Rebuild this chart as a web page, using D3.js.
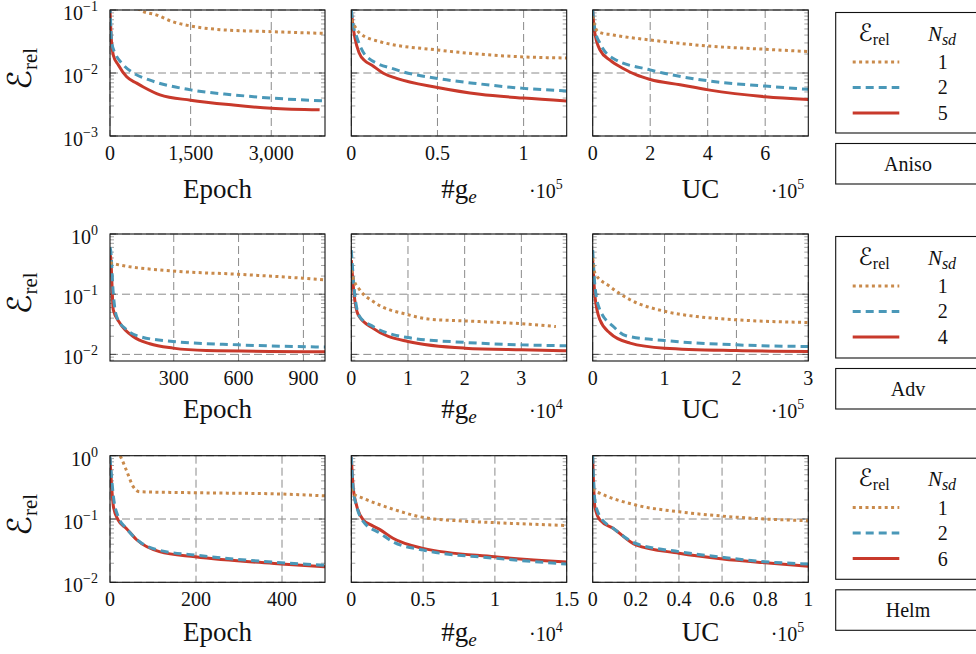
<!DOCTYPE html>
<html>
<head>
<meta charset="utf-8">
<script src="https://cdn.jsdelivr.net/npm/d3@7"></script>
<style>
body { margin: 0; background: #fff; }
</style>
</head>
<body>
<svg id="chart" width="976" height="654" font-family="'Liberation Serif', Tinos, 'Times New Roman', 'DejaVu Serif', serif"></svg>
<script>
// ---- data ----
var rowNames = ["Aniso", "Adv", "Helm"];
var legendNsd = [[1, 2, 5], [1, 2, 4], [1, 2, 6]];

// Aniso
var anisoEpochN1 = [[0,0.5],[300,0.16],[560,0.1],[870,0.083],[1170,0.065],[1500,0.0557],[1985,0.0493],[3000,0.0453],[4000,0.0425]];
var anisoEpochN2 = [[0,0.12],[32,0.03],[93,0.0208],[218,0.0144],[434,0.01],[744,0.0077],[1500,0.0054],[2294,0.0045],[3000,0.004],[4000,0.0036]];
var anisoEpochN5 = [[0,0.1],[20,0.04],[61,0.0193],[155,0.0134],[310,0.0087],[496,0.0069],[620,0.006],[930,0.0045],[1500,0.0037],[2294,0.0031],[3000,0.00275],[3900,0.0026]];
var anisoGradN1 = [[0,0.07],[5000,0.0427],[16600,0.0314],[50000,0.0232],[74700,0.0199],[100000,0.018],[125000,0.0173]];
var anisoGradN2 = [[0,0.1],[1000,0.06],[3100,0.0377],[8900,0.0182],[26300,0.0112],[50000,0.0082],[74700,0.0067],[100000,0.0057],[125000,0.0052]];
var anisoGradN5 = [[0,0.1],[800,0.06],[2100,0.036],[4500,0.021],[8000,0.0155],[11800,0.0134],[18600,0.0099],[26300,0.0082],[50000,0.0059],[74700,0.0046],[100000,0.004],[125000,0.0036]];
var anisoUcN1 = [[0,0.08],[2000,0.069],[19500,0.045],[71700,0.0401],[200000,0.0334],[402000,0.0268],[600000,0.0238],[750000,0.0219]];
var anisoUcN2 = [[0,0.1],[8000,0.048],[25400,0.0296],[71700,0.017],[200000,0.0112],[402000,0.0075],[600000,0.0062],[750000,0.0055]];
var anisoUcN5 = [[0,0.1],[5000,0.05],[25400,0.0232],[60200,0.016],[106000,0.0118],[150000,0.0094],[200000,0.0079],[304000,0.0065],[402000,0.0054],[600000,0.0042],[750000,0.0038]];

// Adv
var advEpochN1 = [[5,0.34],[12,0.327],[297,0.243],[600,0.214],[897,0.184],[1000,0.172]];
var advEpochN2 = [[5,0.6],[8,0.54],[20,0.104],[36,0.042],[82,0.0256],[143,0.0198],[297,0.0164],[600,0.0144],[1000,0.0132]];
var advEpochN4 = [[5,0.45],[8,0.42],[20,0.055],[51,0.033],[112,0.0198],[189,0.015],[297,0.0127],[451,0.0116],[1000,0.0111]];
var advGradN1 = [[0,0.25],[250,0.196],[1500,0.118],[3860,0.0755],[10000,0.0456],[13800,0.0385],[20000,0.036],[30000,0.0323],[36100,0.029]];
var advGradN2 = [[0,0.54],[650,0.091],[1500,0.042],[3860,0.029],[10000,0.019],[20000,0.0158],[30000,0.0144],[38000,0.0139]];
var advGradN4 = [[0,0.37],[470,0.104],[1230,0.045],[3860,0.027],[10000,0.0164],[20000,0.0127],[30000,0.0119],[38000,0.0115]];
var advUcN1 = [[0,0.4],[800,0.327],[3200,0.223],[24000,0.134],[52000,0.081],[100000,0.052],[149000,0.042],[200000,0.0375],[300000,0.0339]];
var advUcN2 = [[0,0.54],[3200,0.134],[10000,0.055],[28700,0.029],[46300,0.0204],[100000,0.017],[200000,0.0144],[300000,0.0135]];
var advUcN4 = [[0,0.37],[3200,0.091],[10000,0.0375],[24000,0.0226],[52000,0.0154],[100000,0.0127],[200000,0.0116],[300000,0.0112]];

// Helm
var helmEpochN1 = [[0,1.3],[23,1.0],[38,0.59],[54,0.324],[69,0.27],[198,0.26],[398,0.248],[500,0.232]];
var helmEpochN2 = [[0,0.96],[8,0.225],[19,0.109],[38,0.071],[69,0.0437],[115,0.032],[198,0.027],[398,0.0204],[500,0.0186]];
var helmEpochN6 = [[0,0.9],[8,0.156],[19,0.096],[38,0.071],[62,0.047],[115,0.0305],[198,0.0253],[398,0.0195],[500,0.0176]];
var helmGradN1 = [[0,0.3],[100,0.255],[840,0.212],[2700,0.148],[5000,0.106],[7340,0.094],[10000,0.0875],[15000,0.079]];
var helmGradN2 = [[0,0.96],[140,0.288],[380,0.156],[840,0.091],[2000,0.0594],[2900,0.0437],[5000,0.0323],[10000,0.024],[15000,0.0194]];
var helmGradN6 = [[0,0.96],[140,0.3],[380,0.16],[840,0.096],[1400,0.08],[2000,0.068],[2900,0.0496],[5000,0.0344],[10000,0.0253],[15000,0.021]];
var helmUcN1 = [[0,0.3],[300,0.288],[3400,0.255],[20000,0.166],[40000,0.13],[60400,0.111],[80000,0.1],[100000,0.094]];
var helmUcN2 = [[0,1.0],[1000,0.2],[3400,0.109],[9600,0.071],[20000,0.041],[40000,0.0305],[60400,0.0248],[80000,0.0211],[100000,0.0195]];
var helmUcN6 = [[0,0.9],[1000,0.156],[3400,0.096],[9600,0.071],[20000,0.039],[40000,0.0288],[60400,0.0234],[80000,0.0204],[100000,0.018]];

// x axis extents, ticks and tick labels
var xDomains = [
	[[0, 4000], [0, 125000], [0, 750000]],
	[[5, 1000], [0, 38000], [0, 300000]],
	[[0, 500], [0, 15000], [0, 100000]]
];
var xTicks = [
	[[0, 1500, 3000], [0, 50000, 100000], [0, 200000, 400000, 600000]],
	[[300, 600, 900], [0, 10000, 20000, 30000], [0, 100000, 200000, 300000]],
	[[0, 200, 400], [0, 5000, 10000, 15000], [0, 20000, 40000, 60000, 80000, 100000]]
];
var xTickLabels = [
	[["0", "1,500", "3,000"], ["0", "0.5", "1"], ["0", "2", "4", "6"]],
	[["300", "600", "900"], ["0", "1", "2", "3"], ["0", "1", "2", "3"]],
	[["0", "200", "400"], ["0", "0.5", "1", "1.5"], ["0", "0.2", "0.4", "0.6", "0.8", "1"]]
];
var xScaleExp = [[null, "5", "5"], [null, "4", "5"], [null, "4", "5"]];
var yDomains = [[1e-3, 1e-1], [Math.pow(10, -2.11), 1], [1e-2, 1]];

var panelData = [
	[[anisoEpochN1, anisoEpochN2, anisoEpochN5], [anisoGradN1, anisoGradN2, anisoGradN5], [anisoUcN1, anisoUcN2, anisoUcN5]],
	[[advEpochN1, advEpochN2, advEpochN4], [advGradN1, advGradN2, advGradN4], [advUcN1, advUcN2, advUcN4]],
	[[helmEpochN1, helmEpochN2, helmEpochN6], [helmGradN1, helmGradN2, helmGradN6], [helmUcN1, helmUcN2, helmUcN6]]
];

// ---- layout / style ----
var colX = [[110, 325], [351.3, 566.7], [592.7, 808.3]];
var rowY = [[10, 136], [234, 361], [455.7, 582.3]];
var labelBase = [198, 418, 641];
var seriesStyle = [
	{color: "#c98a4b", dash: "3,3.4"},
	{color: "#4a98b8", dash: "8,5"},
	{color: "#c8392b", dash: null}
];
var drawOrder = [2, 1, 0];
var serifFont = "'Liberation Serif', Tinos, 'Times New Roman', 'DejaVu Serif', serif";
var scriptFont = "'DejaVu Serif', 'DejaVu Sans', serif";

var svg = d3.select("#chart");
var defs = svg.append("defs");

function addText(parent) {
	return parent.append("text")
	.attr("font-family", serifFont)
	.attr("fill", "#111");
}

function supText(sel, base, exp, baseSize, expSize, rise) {
	sel.append("tspan").attr("font-size", baseSize).text(base);
	sel.append("tspan").attr("dy", -rise).attr("font-size", expSize).text(exp);
}

function drawPanel(r, c) {
	var x0 = colX[c][0], x1 = colX[c][1];
	var y0 = rowY[r][0], y1 = rowY[r][1];
	var x = d3.scaleLinear().domain(xDomains[r][c]).range([x0, x1]);
	var y = d3.scaleLog().domain(yDomains[r]).range([y1, y0]);
	var g = svg.append("g").attr("class", "panel");
	var clipId = "clip" + r + c;

	defs.append("clipPath").attr("id", clipId)
	.append("rect")
	.attr("x", x0).attr("y", y0)
	.attr("width", x1 - x0).attr("height", y1 - y0);

	// grid
	xTicks[r][c].forEach(function(t) {
		g.append("line")
		.attr("x1", x(t)).attr("x2", x(t))
		.attr("y1", y0).attr("y2", y1)
		.style("stroke", "#8a8a8a")
		.style("stroke-width", 1)
		.style("stroke-dasharray", "8,4");
	});
	var decades = [];
	for (var k = -4; k <= 1; k++) {
		var v = Math.pow(10, k);
		if (v >= yDomains[r][0] * 0.999 && v <= yDomains[r][1] * 1.001) decades.push(v);
	}
	decades.forEach(function(v) {
		g.append("line")
		.attr("x1", x0).attr("x2", x1)
		.attr("y1", y(v)).attr("y2", y(v))
		.style("stroke", "#8a8a8a")
		.style("stroke-width", 1)
		.style("stroke-dasharray", "8,4");
	});

	// minor / major ticks on log axis (both sides)
	for (var k2 = -4; k2 <= 0; k2++) {
		for (var m = 1; m <= 9; m++) {
			var val = m * Math.pow(10, k2);
			if (val < yDomains[r][0] || val > yDomains[r][1] * 1.001) continue;
			var len = m === 1 ? 6 : 4;
			var col = m === 1 ? "#444" : "#999";
			[[x0, x0 + len], [x1 - len, x1]].forEach(function(p) {
				g.append("line")
				.attr("x1", p[0]).attr("x2", p[1])
				.attr("y1", y(val)).attr("y2", y(val))
				.style("stroke", col)
				.style("stroke-width", 0.9);
			});
		}
	}

	// curves
	var line = d3.line()
	.x(function(d) { return x(d[0]); })
	.y(function(d) { return y(d[1]); })
	.curve(d3.curveMonotoneX);
	var lines = g.append("g").attr("clip-path", "url(#" + clipId + ")");
	drawOrder.forEach(function(i) {
		lines.append("path")
		.attr("d", line(panelData[r][c][i]))
		.style("fill", "none")
		.style("stroke", seriesStyle[i].color)
		.style("stroke-width", 3)
		.style("stroke-dasharray", seriesStyle[i].dash);
	});

	// frame
	g.append("rect")
	.attr("x", x0).attr("y", y0)
	.attr("width", x1 - x0).attr("height", y1 - y0)
	.style("fill", "none")
	.style("stroke", "#111")
	.style("stroke-width", 1.1);

	// x tick labels
	xTicks[r][c].forEach(function(t, i) {
		addText(g)
		.attr("x", x(t))
		.attr("y", y1 + 24)
		.attr("text-anchor", "middle")
		.attr("font-size", 20)
		.text(xTickLabels[r][c][i]);
	});

	// y tick labels (first column only)
	if (c === 0) {
		decades.forEach(function(v) {
			var e = Math.round(Math.log10(v));
			var t = addText(g)
			.attr("x", 98)
			.attr("y", Math.max(y(v) + 10, 16))
			.attr("text-anchor", "end");
			supText(t, "10", e < 0 ? "\u2212" + (-e) : String(e), 20, 14, 9);
		});
	}

	// axis label
	var cx = (x0 + x1) / 2;
	var lab = addText(g)
	.attr("x", cx)
	.attr("y", labelBase[r])
	.attr("text-anchor", "middle")
	.attr("font-size", 27);
	if (c === 0) lab.text("Epoch");
	else if (c === 2) lab.text("UC");
	else {
		lab.append("tspan").text("#g");
		lab.append("tspan").attr("dy", 5).attr("font-size", 19).attr("font-style", "italic").text("e");
	}

	if (xScaleExp[r][c]) {
		var s = addText(g)
		.attr("x", x1 - 4)
		.attr("y", labelBase[r])
		.attr("text-anchor", "end");
		supText(s, "\u00b710", xScaleExp[r][c], 20, 14, 9);
	}

	// y axis label
	if (c === 0) {
		var yl = addText(g)
		.attr("transform", "translate(31," + ((y0 + y1) / 2 - 4) + ") rotate(-90)")
		.attr("text-anchor", "middle");
		yl.append("tspan").attr("font-size", 33).attr("font-family", scriptFont).text("\u2130");
		yl.append("tspan").attr("dy", 6).attr("font-size", 21).text("rel");
	}
}

function drawLegend(r) {
	var top = rowY[r][0] + 2.5;
	var bottom = rowY[r][1] - 3;
	var lx = 835.7;
	var g = svg.append("g").attr("class", "legend");

	g.append("rect")
	.attr("x", lx).attr("y", top)
	.attr("width", 200).attr("height", bottom - top)
	.style("fill", "#fff")
	.style("stroke", "#111")
	.style("stroke-width", 1.1);

	var h = addText(g)
	.attr("x", 874).attr("y", top + 28)
	.attr("text-anchor", "middle");
	h.append("tspan").attr("font-size", 24).attr("font-family", scriptFont).text("\u2130");
	h.append("tspan").attr("dy", 4).attr("font-size", 16).text("rel");

	var n = addText(g)
	.attr("x", 942).attr("y", top + 28)
	.attr("text-anchor", "middle")
	.attr("font-style", "italic");
	n.append("tspan").attr("font-size", 21).text("N");
	n.append("tspan").attr("dy", 4).attr("font-size", 16).text("sd");

	legendNsd[r].forEach(function(v, i) {
		var yy = top + 49.4 + i * 25.5;
		g.append("line")
		.attr("x1", 852.7).attr("x2", 899.3)
		.attr("y1", yy).attr("y2", yy)
		.style("stroke", seriesStyle[i].color)
		.style("stroke-width", 3)
		.style("stroke-dasharray", seriesStyle[i].dash);
		addText(g)
		.attr("x", 942.7).attr("y", yy + 7)
		.attr("text-anchor", "middle")
		.attr("font-size", 20)
		.text(v);
	});

	var nb = rowY[r][1] + 7.5;
	g.append("rect")
	.attr("x", lx).attr("y", nb)
	.attr("width", 200).attr("height", 40.5)
	.style("fill", "#fff")
	.style("stroke", "#111")
	.style("stroke-width", 1.1);
	addText(g)
	.attr("x", 908).attr("y", nb + 27)
	.attr("text-anchor", "middle")
	.attr("font-size", 20)
	.text(rowNames[r]);
}

for (var r = 0; r < 3; r++) {
	for (var c = 0; c < 3; c++) drawPanel(r, c);
	drawLegend(r);
}
</script>
</body>
</html>
